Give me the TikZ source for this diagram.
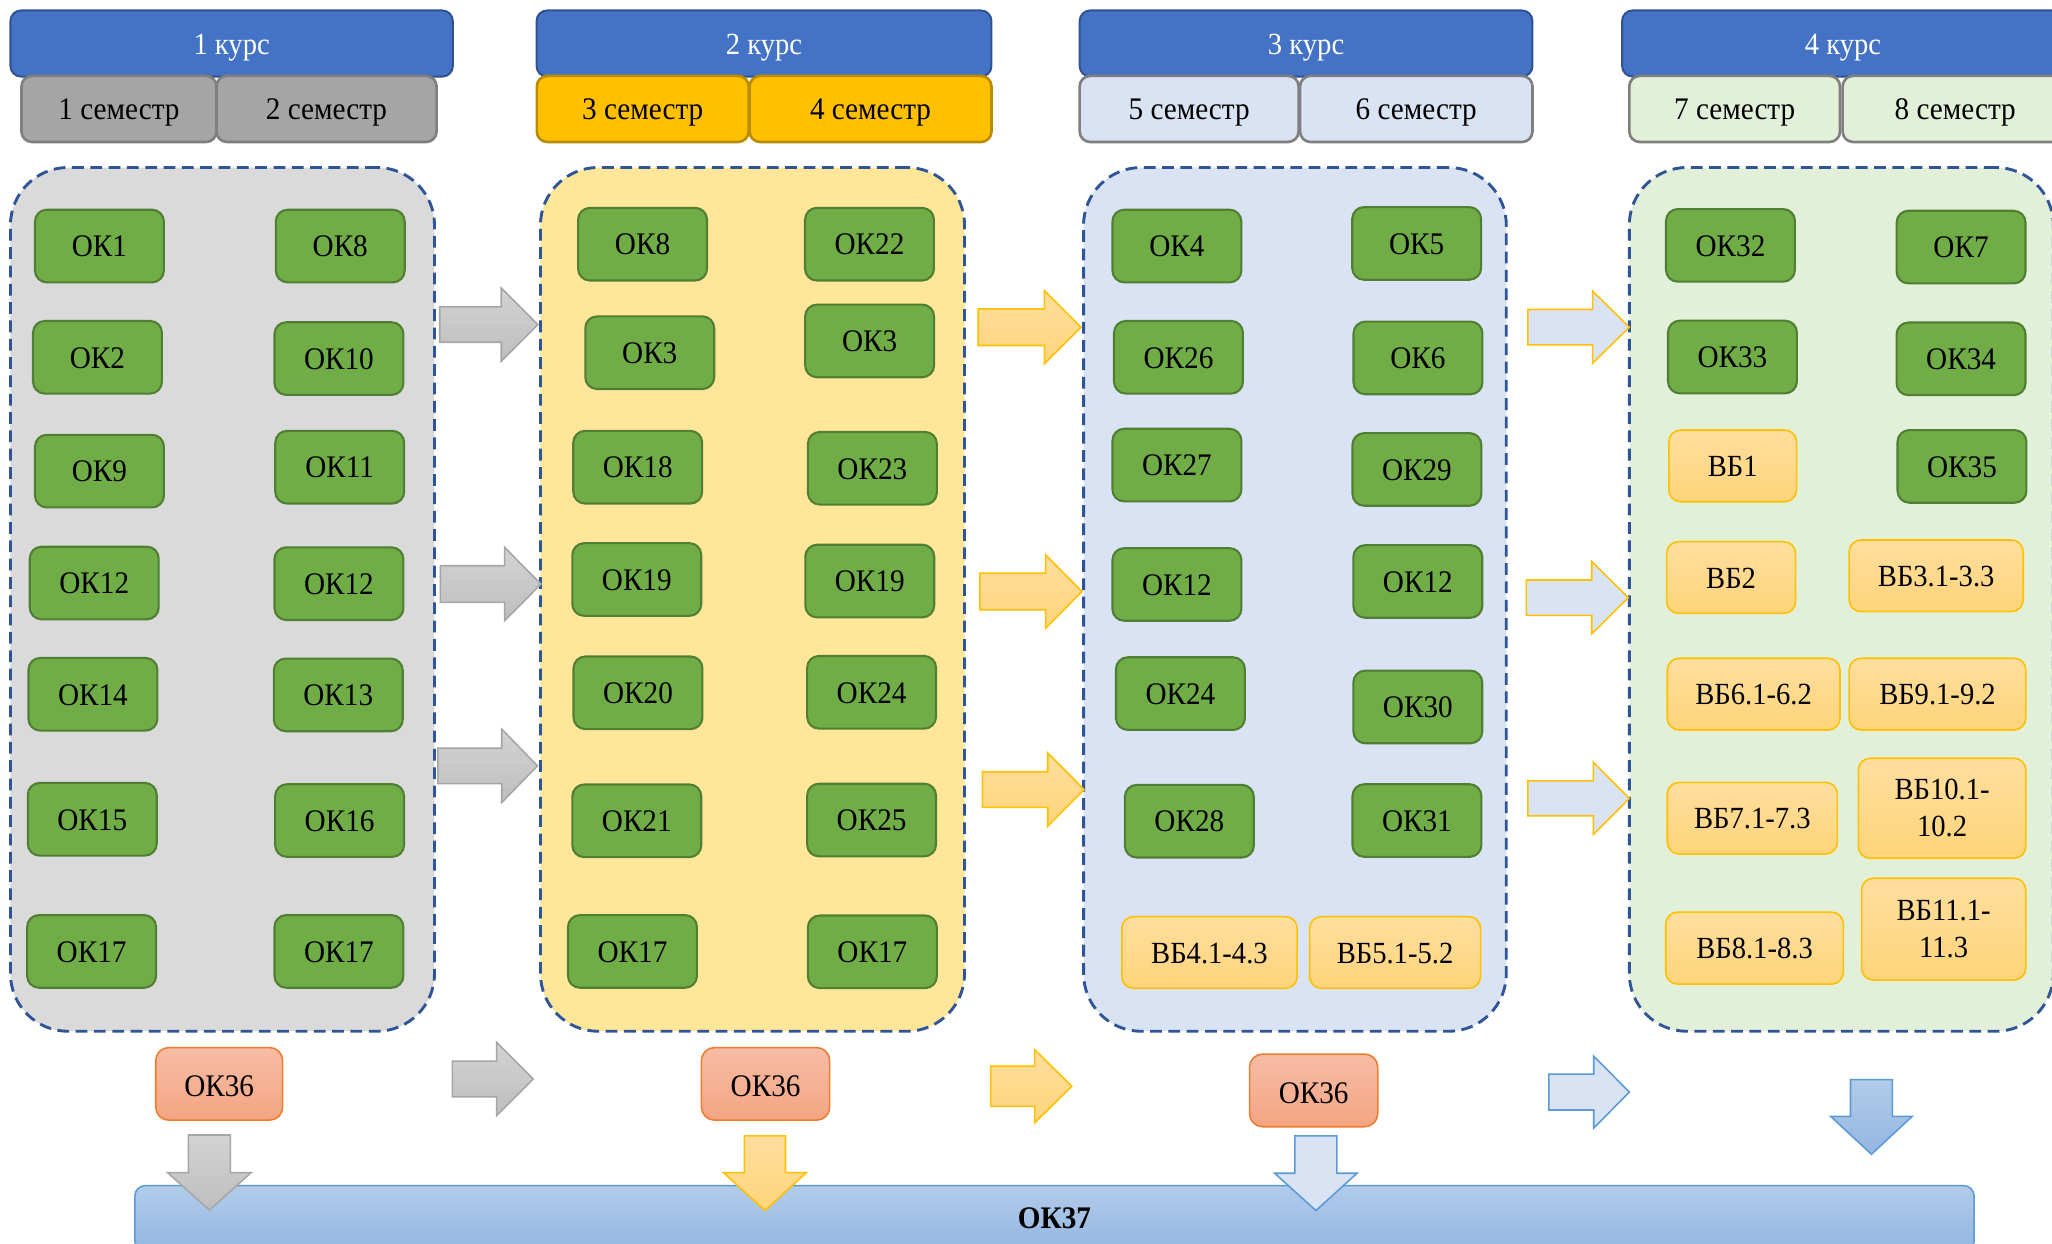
\documentclass[tikz,border=0pt]{standalone}
\usepackage{fontspec}
\setmainfont{Liberation Serif}[FakeStretch=0.93]
\definecolor{hdrf}{HTML}{4472C4}
\definecolor{hdrb}{HTML}{2F528F}
\definecolor{semgf}{HTML}{A5A5A5}
\definecolor{semgb}{HTML}{7F7F7F}
\definecolor{semof}{HTML}{FFC000}
\definecolor{semob}{HTML}{BC8C00}
\definecolor{sembf}{HTML}{DAE3F3}
\definecolor{semnf}{HTML}{E2F0D9}
\definecolor{cgray}{HTML}{DADADA}
\definecolor{cyel}{HTML}{FFE699}
\definecolor{cblue}{HTML}{DAE3F3}
\definecolor{cgreen}{HTML}{E2F0D9}
\definecolor{dashc}{HTML}{2F5597}
\definecolor{okf}{HTML}{70AD47}
\definecolor{okb}{HTML}{507E32}
\definecolor{vbt}{HTML}{FFDE9E}
\definecolor{vbbot}{HTML}{FFD47A}
\definecolor{vbb}{HTML}{FFC000}
\definecolor{sat}{HTML}{F6BCA5}
\definecolor{sabot}{HTML}{F4A582}
\definecolor{sab}{HTML}{ED7D31}
\definecolor{bart}{HTML}{B2CBE9}
\definecolor{barbot}{HTML}{94B6E2}
\definecolor{barb}{HTML}{5B9BD5}
\definecolor{agt}{HTML}{D3D3D3}
\definecolor{agb}{HTML}{BEBEBE}
\definecolor{agd}{HTML}{A6A6A6}
\definecolor{ablt}{HTML}{DAE3F3}
\begin{document}
\begin{tikzpicture}[x=1pt,y=-1pt,
  hdr/.style={draw=hdrb, fill=hdrf, line width=1.5pt, rounded corners=8pt, text=white,
    font=\fontsize{23.5}{27}\selectfont, inner sep=0pt, minimum height=50.5,
    text height=17.5pt, text depth=0pt},
  sem/.style={line width=2pt, rounded corners=8pt, font=\fontsize{24}{28}\selectfont,
    inner sep=0pt, minimum height=50.5, text height=16.5pt, text depth=0pt},
  cont/.style={draw=dashc, dash pattern=on 9pt off 5pt, line width=2.2pt, rounded corners=44pt,
    inner sep=0pt, minimum width=324, minimum height=660},
  okbox/.style={draw=okb, fill=okf, line width=1.6pt, rounded corners=9pt, minimum width=98.5,
    minimum height=55.5, inner sep=0pt, font=\fontsize{24}{28}\selectfont,
    text height=16.5pt, text depth=0pt},
  vbbase/.style={draw=vbb, top color=vbt, bottom color=vbbot, line width=1.2pt, rounded corners=9pt,
    inner sep=0pt, align=center, minimum height=54.8, font=\fontsize{23.5}{28.5}\selectfont},
  vbbox/.style={vbbase, text height=16.5pt, text depth=0pt},
  okred/.style={draw=sab, top color=sat, bottom color=sabot, line width=1.2pt, rounded corners=10pt,
    inner sep=0pt, minimum width=98, minimum height=55.5, font=\fontsize{24}{28}\selectfont,
    text height=19.5pt, text depth=0pt},
  agray/.style={draw=agd, top color=agt, bottom color=agb, line width=1.2pt},
  aorange/.style={draw=vbb, top color=vbt, bottom color=vbbot, line width=1.2pt},
  ablueo/.style={draw=vbb, fill=ablt, line width=1.2pt},
  ablueb/.style={draw=barb, fill=ablt, line width=1.2pt},
  abluedark/.style={draw=barb, top color=bart, bottom color=barbot, line width=1.2pt}
]
\newcommand\blkright[7]{\draw[#1] (#2,#5-#6) -- (#3,#5-#6) -- (#3,#5-#7) -- (#4,#5) -- (#3,#5+#7) -- (#3,#5+#6) -- (#2,#5+#6) -- cycle;}
\newcommand\blkdown[7]{\draw[#1] (#2-#6,#3) -- (#2+#6,#3) -- (#2+#6,#4) -- (#2+#7,#4) -- (#2,#5) -- (#2-#7,#4) -- (#2-#6,#4) -- cycle;}
\useasboundingbox (0,0) rectangle (1568,950);
\clip (0,0) rectangle (1568,950);
\fill[white] (0,0) rectangle (1568,950);

% headers
\node[hdr, minimum width=338] (h1) at (177,33.25) {1 курс};
\node[hdr, minimum width=347.6] (h2) at (583.8,33.25) {2 курс};
\node[hdr, minimum width=346] (h3) at (998,33.25) {3 курс};
\node[hdr, minimum width=337.5] (h4) at (1408.25,33.25) {4 курс};
% semesters
\node[sem, draw=semgb, fill=semgf, minimum width=149] (s1) at (90.9,83.25) {1 семестр};
\node[sem, draw=semgb, fill=semgf, minimum width=168.2] (s2) at (249.5,83.25) {2 семестр};
\node[sem, draw=semob, fill=semof, minimum width=161.8] (s3) at (491.1,83.25) {3 семестр};
\node[sem, draw=semob, fill=semof, minimum width=184.8] (s4) at (665.2,83.25) {4 семестр};
\node[sem, draw=semgb, fill=sembf, minimum width=167.3] (s5) at (908.65,83.25) {5 семестр};
\node[sem, draw=semgb, fill=sembf, minimum width=177.6] (s6) at (1082.2,83.25) {6 семестр};
\node[sem, draw=semgb, fill=semnf, minimum width=161] (s7) at (1325.5,83.25) {7 семестр};
\node[sem, draw=semgb, fill=semnf, minimum width=172] (s8) at (1494,83.25) {8 семестр};

% containers
\node[cont, fill=cgray] (c1) at (170,458) {};
\node[cont, fill=cyel] (c2) at (575,458) {};
\node[cont, fill=cblue, minimum width=323] (c3) at (989.5,458) {};
\node[cont, fill=cgreen] (c4) at (1407,458) {};

% course 1
\node[okbox] (a1) at (76,188) {ОК1};
\node[okbox] (a2) at (260,188) {ОК8};
\node[okbox] (a3) at (74.5,273) {ОК2};
\node[okbox] (a4) at (259,274) {ОК10};
\node[okbox] (a5) at (76,360) {ОК9};
\node[okbox] (a6) at (259.6,357) {ОК11};
\node[okbox] (a7) at (72,445.5) {ОК12};
\node[okbox] (a8) at (259,446) {ОК12};
\node[okbox] (a9) at (71,530.5) {ОК14};
\node[okbox] (a10) at (258.5,531) {ОК13};
\node[okbox] (a11) at (70.5,626) {ОК15};
\node[okbox] (a12) at (259.5,627) {ОК16};
\node[okbox] (a13) at (70,727) {ОК17};
\node[okbox] (a14) at (259,727) {ОК17};

% course 2
\node[okbox] (b1) at (491,186.6) {ОК8};
\node[okbox] (b2) at (664.4,186.6) {ОК22};
\node[okbox] (b3) at (496.5,269.5) {ОК3};
\node[okbox] (b4) at (664.5,260.5) {ОК3};
\node[okbox] (b5) at (487.3,357) {ОК18};
\node[okbox] (b6) at (666.6,357.8) {ОК23};
\node[okbox] (b7) at (486.6,442.8) {ОК19};
\node[okbox] (b8) at (664.6,444) {ОК19};
\node[okbox] (b9) at (487.5,529.4) {ОК20};
\node[okbox] (b10) at (666,529) {ОК24};
\node[okbox] (b11) at (486.6,627.2) {ОК21};
\node[okbox] (b12) at (666,626.6) {ОК25};
\node[okbox] (b13) at (483.3,727) {ОК17};
\node[okbox] (b14) at (666.6,727.3) {ОК17};

% course 3
\node[okbox] (d1) at (899.3,188) {ОК4};
\node[okbox] (d2) at (1082.5,186) {ОК5};
\node[okbox] (d3) at (900.5,273) {ОК26};
\node[okbox] (d4) at (1083.5,273.5) {ОК6};
\node[okbox] (d5) at (899.3,355.4) {ОК27};
\node[okbox] (d6) at (1082.7,358.7) {ОК29};
\node[okbox] (d7) at (899.3,446.6) {ОК12};
\node[okbox] (d8) at (1083.4,444.3) {ОК12};
\node[okbox] (d9) at (902,530) {ОК24};
\node[okbox] (d10) at (1083.4,540.2) {ОК30};
\node[okbox] (d11) at (908.8,627.5) {ОК28};
\node[okbox] (d12) at (1082.7,627) {ОК31};
\node[vbbox, minimum width=134] (d13) at (924.2,727.8) {ВБ4.1-4.3};
\node[vbbox, minimum width=130.7] (d14) at (1066,727.8) {ВБ5.1-5.2};

% course 4
\node[okbox] (e1) at (1322.3,187.5) {ОК32};
\node[okbox] (e2) at (1498.5,188.8) {ОК7};
\node[okbox] (e3) at (1323.8,272.8) {ОК33};
\node[okbox] (e4) at (1498.5,274.2) {ОК34};
\node[vbbox, minimum width=97.6] (e5) at (1324,356) {ВБ1};
\node[okbox] (e6) at (1499.2,356.4) {ОК35};
\node[vbbox, minimum width=98.5] (e7) at (1322.8,441.3) {ВБ2};
\node[vbbox, minimum width=133] (e8) at (1479.5,440) {ВБ3.1-3.3};
\node[vbbox, minimum width=132] (e9) at (1340,530.4) {ВБ6.1-6.2};
\node[vbbox, minimum width=135] (e10) at (1480.5,530.4) {ВБ9.1-9.2};
\node[vbbox, minimum width=130] (e11) at (1339,625.2) {ВБ7.1-7.3};
\node[vbbase, minimum width=128, minimum height=76.4] (e12) at (1484,617.6) {ВБ10.1-\\10.2};
\node[vbbox, minimum width=135.7, minimum height=55] (e13) at (1340.7,724.5) {ВБ8.1-8.3};
\node[vbbase, minimum width=125.5, minimum height=77.8] (e14) at (1485.2,710) {ВБ11.1-\\11.3};

% OK36 boxes
\node[okred, minimum width=97] (r1) at (167.5,828.2) {ОК36};
\node[okred] (r2) at (585,828.2) {ОК36};
\node[okred] (r3) at (1003.8,833.2) {ОК36};

% right block arrows
\blkright{agray}{336}{383}{411}{248}{13.5}{28}
\blkright{agray}{336.5}{385.6}{413.4}{446.3}{14}{28}
\blkright{agray}{334.6}{383.4}{410.7}{585.2}{13.6}{28}
\blkright{agray}{345.7}{379.5}{407.4}{824.5}{13.7}{28}
\blkright{aorange}{747.5}{798}{826}{250}{14}{28}
\blkright{aorange}{748.8}{799}{826.8}{452}{14}{28}
\blkright{aorange}{750.6}{800.6}{828.4}{603.3}{13.6}{28}
\blkright{aorange}{757}{790.6}{819}{830}{15.4}{28}
\blkright{ablueo}{1167.5}{1217}{1245}{250}{13.5}{27.5}
\blkright{ablueo}{1166.4}{1216.3}{1244.2}{456.7}{13.5}{27.6}
\blkright{ablueo}{1167.5}{1217.6}{1245}{610}{13.4}{27.5}
\blkright{ablueb}{1183.5}{1217.8}{1245}{834.5}{13.7}{27.5}

% OK37 bar
\node[draw=barb, top color=bart, bottom color=barbot, line width=1.2pt, rounded corners=8pt,
  minimum width=1405.5, minimum height=50, inner sep=0pt, text height=16pt, text depth=0pt,
  font=\bfseries\fontsize{24}{28}\selectfont] (ok37) at (805.75,931) {ОК37};

% down block arrows
\blkdown{agray}{160}{867.3}{896}{924.6}{16}{32}
\blkdown{aorange}{584.5}{868}{896}{925}{15.7}{31.7}
\blkdown{ablueb}{1005.5}{868}{896.5}{925}{16}{31.5}
\blkdown{abluedark}{1430}{825}{853}{882}{16}{31.2}
\end{tikzpicture}
\end{document}
